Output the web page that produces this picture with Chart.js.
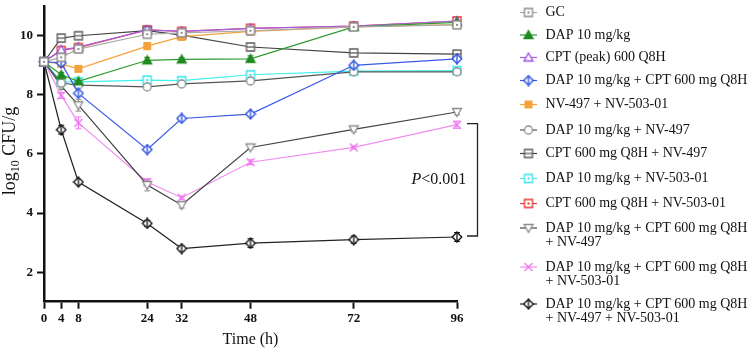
<!DOCTYPE html>
<html>
<head>
<meta charset="utf-8">
<script src="https://cdn.jsdelivr.net/npm/chart.js@4.4.1/dist/chart.umd.min.js"></script>
<style>
  body { margin: 0; background: #fff; }
  .chart-container { position: relative; width: 750px; height: 354px; }
</style>
</head>
<body>
<div class="chart-container">
  <canvas id="killChart" width="750" height="354"></canvas>
</div>
<script>
// time points (h)
const times = [0, 4, 8, 24, 32, 48, 72, 96];
const yTicks = [2, 4, 6, 8, 10];

const seriesNames = [
    'GC',
    'DAP 10 mg/kg',
    'CPT (peak) 600 Q8H',
    'DAP 10 mg/kg + CPT 600 mg Q8H',
    'NV-497 + NV-503-01',
    'DAP 10 mg/kg + NV-497',
    'CPT 600 mg Q8H + NV-497',
    'DAP 10 mg/kg + NV-503-01',
    'CPT 600 mg Q8H + NV-503-01',
    'DAP 10 mg/kg + CPT 600 mg Q8H\n+ NV-497',
    'DAP 10 mg/kg + CPT 600 mg Q8H\n+ NV-503-01',
    'DAP 10 mg/kg + CPT 600 mg Q8H\n+ NV-497 + NV-503-01'
];

// log10 CFU/g
const gc          = [9.12, 9.27, 9.55, 10.05, 10.10, 10.17, 10.30, 10.37];
const dap         = [9.12, 8.68, 8.46, 9.17, 9.20, 9.22, 10.30, 10.45];
const cptPeak     = [9.12, 9.52, 9.62, 10.20, 10.15, 10.25, 10.33, 10.50];
const dapCpt      = [9.12, 9.08, 8.05, 6.15, 7.20, 7.35, 9.00, 9.22];
const nv497nv503  = [9.12, 9.05, 8.88, 9.65, 9.97, 10.15, 10.30, 10.38];
const dapNv497    = [9.12, 8.40, 8.33, 8.27, 8.37, 8.47, 8.78, 8.78];
const cptNv497    = [9.12, 9.92, 10.00, 10.17, 10.02, 9.62, 9.42, 9.38];
const dapNv503    = [9.12, 8.45, 8.44, 8.50, 8.48, 8.68, 8.80, 8.82];
const cptNv503    = [9.12, 9.50, 9.60, 10.20, 10.15, 10.25, 10.33, 10.50];
const dapCptNv497 = [9.12, 8.30, 7.65, 4.95, 4.27, 6.22, 6.83, 7.42];
const dapCptNv503 = [9.12, 7.98, 7.05, 5.05, 4.52, 5.72, 6.22, 6.99];
const quad        = [9.12, 6.82, 5.05, 3.65, 2.80, 2.98, 3.10, 3.19];

// SD (error bars)
const gcErr          = [0.05, 0.05, 0.05, 0.08, 0.08, 0.15, 0.05, 0.05];
const dapErr         = [0.05, 0.08, 0.05, 0.10, 0.05, 0.10, 0.05, 0.05];
const cptPeakErr     = [0.05, 0.05, 0.05, 0.05, 0.05, 0.05, 0.05, 0.05];
const dapCptErr      = [0.05, 0.05, 0.05, 0.05, 0.05, 0.05, 0.05, 0.05];
const nvErr          = [0.05, 0.05, 0.05, 0.12, 0.12, 0.05, 0.05, 0.05];
const dapNv497Err    = [0.05, 0.05, 0.05, 0.05, 0.05, 0.05, 0.05, 0.05];
const cptNv497Err    = [0.05, 0.05, 0.05, 0.05, 0.05, 0.08, 0.08, 0.05];
const dapNv503Err    = [0.05, 0.05, 0.05, 0.05, 0.05, 0.05, 0.05, 0.05];
const cptNv503Err    = [0.05, 0.05, 0.05, 0.05, 0.05, 0.05, 0.05, 0.05];
const dapCptNv497Err = [0.05, 0.12, 0.20, 0.20, 0.10, 0.05, 0.08, 0.10];
const dapCptNv503Err = [0.05, 0.10, 0.20, 0.10, 0.05, 0.08, 0.05, 0.12];
const quadErr        = [0.05, 0.15, 0.05, 0.10, 0.08, 0.15, 0.12, 0.15];

function makeMarker(kind, color) {
    const c = document.createElement('canvas');
    c.width = 12; c.height = 12;
    const g = c.getContext('2d');
    g.strokeStyle = color;
    g.fillStyle = '#fff';
    g.lineWidth = 1.3;
    g.beginPath();
    if (kind === 'sqDot' || kind === 'sqLine') {
        g.rect(2, 2, 8, 8);
        g.fill(); g.stroke();
        if (kind === 'sqDot') {
            g.fillStyle = color;
            g.fillRect(5, 5, 2, 2);
        } else {
            g.beginPath(); g.moveTo(2, 6); g.lineTo(10, 6); g.stroke();
        }
    } else if (kind === 'sqFill') {
        g.fillStyle = color;
        g.fillRect(2, 2, 8, 8);
    } else if (kind === 'triFill' || kind === 'triOpen') {
        g.moveTo(6, 1.5); g.lineTo(10.5, 9.5); g.lineTo(1.5, 9.5); g.closePath();
        if (kind === 'triFill') { g.fillStyle = color; }
        g.fill(); g.stroke();
    } else if (kind === 'triDown') {
        g.moveTo(1.5, 2.5); g.lineTo(10.5, 2.5); g.lineTo(6, 10.5); g.closePath();
        g.fill(); g.stroke();
    } else if (kind === 'dia') {
        g.moveTo(6, 1.2); g.lineTo(10.8, 6); g.lineTo(6, 10.8); g.lineTo(1.2, 6); g.closePath();
        g.fill(); g.stroke();
        g.beginPath(); g.moveTo(6, 0.5); g.lineTo(6, 11.5); g.stroke();
    } else if (kind === 'circle') {
        g.arc(6, 6, 4, 0, Math.PI * 2);
        g.fill(); g.stroke();
    } else if (kind === 'cross') {
        g.moveTo(2, 2); g.lineTo(10, 10); g.moveTo(10, 2); g.lineTo(2, 10);
        g.stroke();
    }
    return c;
}

const allData = [gc, dap, cptPeak, dapCpt, nv497nv503, dapNv497, cptNv497, dapNv503, cptNv503, dapCptNv497, dapCptNv503, quad];
const allErr = [gcErr, dapErr, cptPeakErr, dapCptErr, nvErr, dapNv497Err, cptNv497Err, dapNv503Err, cptNv503Err, dapCptNv497Err, dapCptNv503Err, quadErr];
const lineColors = ['#a8a8a8', '#2e9a2e', '#a45ee8', '#3a5ae6', '#f4a23a', '#555555', '#444444', '#3ef0f0', '#e8413a', '#444444', '#f08cf0', '#222222'];
const markerColors = ['#8c8c8c', '#1f8a1f', '#9a4ae0', '#2a4ee0', '#f4a23a', '#8c8c8c', '#5a5a5a', '#2ee6ea', '#e8312a', '#8c8c8c', '#f070f0', '#111111'];
const markerKinds = ['sqDot', 'triFill', 'triOpen', 'dia', 'sqFill', 'circle', 'sqLine', 'sqDot', 'sqDot', 'triDown', 'cross', 'dia'];
const markers = markerKinds.map((k, i) => makeMarker(k, markerColors[i]));

const datasets = allData.map((vals, i) => ({
    label: seriesNames[i],
    data: vals.map((v, j) => ({ x: times[j], y: v })),
    borderColor: lineColors[i],
    backgroundColor: lineColors[i],
    borderWidth: 1.2,
    pointStyle: markers[i],
    pointRadius: 5,
    tension: 0,
    fill: false,
    clip: false
}));

const serif = 'Liberation Serif, Times New Roman, serif';

const overlay = {
    id: 'overlay',
    beforeDatasetsDraw(chart) {
        const ctx = chart.ctx;
        const xs = chart.scales.x, ys = chart.scales.y;
        ctx.save();
        ctx.lineWidth = 1;
        allData.forEach((vals, i) => {
            ctx.strokeStyle = markerColors[i];
            vals.forEach((v, j) => {
                const e = allErr[i][j];
                const x = xs.getPixelForValue(times[j]);
                const y1 = ys.getPixelForValue(v + e), y2 = ys.getPixelForValue(v - e);
                ctx.beginPath();
                ctx.moveTo(x, y1); ctx.lineTo(x, y2);
                ctx.moveTo(x - 3, y1); ctx.lineTo(x + 3, y1);
                ctx.moveTo(x - 3, y2); ctx.lineTo(x + 3, y2);
                ctx.stroke();
            });
        });
        ctx.restore();
    },
    afterDraw(chart) {
        const ctx = chart.ctx;
        const xs = chart.scales.x, ys = chart.scales.y;
        ctx.save();
        ctx.fillStyle = '#111';

        // y title with subscript
        ctx.save();
        ctx.translate(15, 151);
        ctx.rotate(-Math.PI / 2);
        ctx.textBaseline = 'alphabetic';
        ctx.font = '18px ' + serif;
        const w1 = ctx.measureText('log').width;
        const w3 = ctx.measureText(' CFU/g').width;
        ctx.font = '12px ' + serif;
        const w2 = ctx.measureText('10').width;
        let sx = -(w1 + w2 + w3) / 2;
        ctx.font = '18px ' + serif;
        ctx.fillText('log', sx, 0);
        ctx.font = '12px ' + serif;
        ctx.fillText('10', sx + w1, 4);
        ctx.font = '18px ' + serif;
        ctx.fillText(' CFU/g', sx + w1 + w2, 0);
        ctx.restore();

        // x title
        ctx.font = '16px ' + serif;
        ctx.textAlign = 'center';
        ctx.textBaseline = 'middle';
        ctx.fillText('Time (h)', (chart.chartArea.left + chart.chartArea.right) / 2, 339.5);

        // significance bracket
        const xEnd = xs.getPixelForValue(96);
        const yTop = ys.getPixelForValue(dapCptNv503[7]) - 1;
        const yBot = ys.getPixelForValue(quad[7]) - 1;
        const bx = xEnd + 20.5;
        ctx.strokeStyle = '#222';
        ctx.lineWidth = 1.3;
        ctx.beginPath();
        ctx.moveTo(xEnd + 10, yTop); ctx.lineTo(bx, yTop);
        ctx.lineTo(bx, yBot); ctx.lineTo(xEnd + 10, yBot);
        ctx.stroke();
        ctx.textAlign = 'left';
        ctx.font = 'italic 16px ' + serif;
        const pw = ctx.measureText('P').width;
        ctx.fillText('P', 411.5, 180);
        ctx.font = '16px ' + serif;
        ctx.fillText('<0.001', 411.5 + pw, 180);

        // legend
        const rows = [12.5, 35, 57.5, 80.5, 104.5, 130, 153.5, 178.5, 203.5, 228, 267, 304];
        ctx.font = '14px ' + serif;
        ctx.textBaseline = 'middle';
        rows.forEach((ry, i) => {
            ctx.strokeStyle = lineColors[i];
            ctx.lineWidth = 1.2;
            ctx.beginPath();
            ctx.moveTo(520, ry); ctx.lineTo(537, ry);
            ctx.stroke();
            ctx.drawImage(markers[i], 528.5 - 6, ry - 6);
            ctx.fillStyle = '#111';
            seriesNames[i].split('\n').forEach((line, k) => {
                ctx.fillText(line, 545.5, ry + k * 14.5);
            });
        });
        ctx.restore();
    }
};

const chart = new Chart(document.getElementById('killChart'), {
    type: 'line',
    data: { datasets: datasets },
    options: {
        responsive: false,
        animation: false,
        devicePixelRatio: 1,
        layout: { padding: { top: 2, right: 293, left: 0, bottom: 0 } },
        plugins: {
            legend: { display: false },
            tooltip: { enabled: false }
        },
        scales: {
            x: {
                type: 'linear',
                min: 0,
                max: 96,
                afterBuildTicks: (scale) => { scale.ticks = times.map(v => ({ value: v })); },
                afterFit: (scale) => { scale.height = 52.3; scale.paddingLeft = 0; scale.paddingRight = 0; },
                ticks: {
                    autoSkip: false,
                    maxRotation: 0,
                    padding: 2,
                    color: '#111',
                    font: { family: serif, size: 13, weight: 'bold' }
                },
                grid: { drawOnChartArea: false, tickLength: 7, tickWidth: 2, tickColor: '#111' },
                border: { width: 2.5, color: '#111' }
            },
            y: {
                min: 1,
                max: 11,
                afterBuildTicks: (scale) => { scale.ticks = yTicks.map(v => ({ value: v })); },
                afterFit: (scale) => { scale.width = 44; scale.paddingTop = 0; scale.paddingBottom = 0; },
                ticks: {
                    padding: 4,
                    color: '#111',
                    font: { family: serif, size: 13, weight: 'bold' }
                },
                grid: { drawOnChartArea: false, tickLength: 7, tickWidth: 2, tickColor: '#111' },
                border: { width: 2.5, color: '#111' }
            }
        }
    },
    plugins: [overlay]
});
</script>
</body>
</html>
